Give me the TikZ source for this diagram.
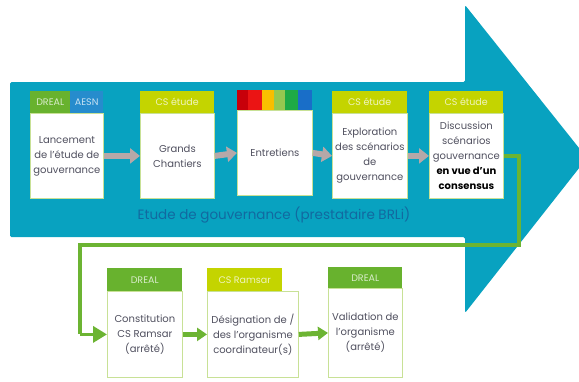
\documentclass[tikz,border=0pt]{standalone}
\usepackage{fontspec}
\setmainfont{Poppins}
\usetikzlibrary{arrows.meta}
\definecolor{teal}{RGB}{8,162,192}
\definecolor{dgreen}{RGB}{104,178,46}
\definecolor{aesnblue}{RGB}{38,140,205}
\definecolor{lime}{RGB}{196,212,0}
\definecolor{cgreen}{RGB}{108,180,50}
\definecolor{garrow}{RGB}{182,168,168}
\definecolor{labelblue}{RGB}{18,105,160}
\definecolor{txtgray}{RGB}{80,80,95}
\definecolor{bgreen}{RGB}{200,225,150}
\definecolor{cdarkred}{RGB}{200,0,10}
\definecolor{cred}{RGB}{235,20,20}
\definecolor{corange}{RGB}{250,190,0}
\definecolor{clgreen}{RGB}{150,200,80}
\definecolor{cgreenb}{RGB}{30,170,70}
\definecolor{cblue}{RGB}{25,110,200}
\tikzset{
  body/.style={draw=bgreen, line width=0.8pt, fill=white, anchor=north west, inner sep=0pt,
    align=center, text=txtgray, font=\fontsize{10}{15}\selectfont},
  hdr/.style={anchor=north west, inner sep=0pt, text=white, text opacity=0.75,
    font=\fontsize{9.5}{11}\selectfont},
  grayarr/.style={draw=garrow, line width=6pt, -{Triangle[width=15pt,length=10pt]}},
  grnarr/.style={draw=cgreen, line width=5pt, -{Triangle[width=13pt,length=10pt]}},
  connector/.style={draw=cgreen, line width=3.5pt},
}
\begin{document}
\begin{tikzpicture}[x=1pt,y=-1pt]
\clip (0,0) rectangle (579,381);
\fill[white] (0,0) rectangle (579,381);
% big arrow
\fill[teal, rounded corners=1.5pt] (10,82) -- (465,82) -- (465,5) -- (587,158) -- (465,313) -- (465,237) -- (10,237) -- cycle;
% top row bodies
\node[body, minimum width=73pt, minimum height=85pt] (b1) at (30,113) {Lancement\\de l'étude de\\gouvernance};
\node[body, minimum width=74pt, minimum height=85pt] (b2) at (140,113) {Grands\\Chantiers};
\node[body, minimum width=75pt, minimum height=85pt] (b3) at (237,110) {Entretiens};
\node[body, minimum width=75pt, minimum height=85pt] (b4) at (332,113) {Exploration\\des scénarios\\de\\gouvernance};
\node[body, minimum width=74pt, minimum height=85pt] (b5) at (429,113) {Discussion\\scénarios\\gouvernance\\{\bfseries\color{black}en vue d'un}\\{\bfseries\color{black}consensus}};
% top headers
\node[hdr, fill=dgreen, minimum width=40pt, minimum height=22pt] (h1a) at (30,91) {DREAL};
\node[hdr, fill=aesnblue, minimum width=33pt, minimum height=22pt] (h1b) at (70,91) {AESN};
\node[hdr, fill=lime, minimum width=74pt, minimum height=22pt] (h2) at (140,91) {CS étude};
\node[hdr, fill=lime, minimum width=75pt, minimum height=22pt] (h4) at (332,91) {CS étude};
\node[hdr, fill=lime, minimum width=74pt, minimum height=22pt] (h5) at (429,91) {CS étude};
% colour bar
\fill[cdarkred] (237,90) rectangle (248,110);
\fill[cred] (248,90) rectangle (262,110);
\fill[corange] (262,90) rectangle (274,110);
\fill[clgreen] (274,90) rectangle (285,110);
\fill[cgreenb] (285,90) rectangle (298,110);
\fill[cblue] (298,90) rectangle (312,110);
% gray arrows
\draw[grayarr] (b1.east) -- (b2.west);
\draw[grayarr] (b2.east) -- (b3.west);
\draw[grayarr] (b3.east) -- (b4.west);
\draw[grayarr] (b4.east) -- (b5.west);
% label
\node[text=labelblue, font=\fontsize{13.5}{15}\selectfont, inner sep=0pt] (lab) at (274,215) {Etude de gouvernance (prestataire BRLi)};
% bottom row
\node[body, minimum width=75pt, minimum height=86pt] (b6) at (107,291) {Constitution\\CS Ramsar\\(arrêté)};
\node[body, minimum width=91pt, minimum height=86pt] (b7) at (207,291) {Désignation de /\\des l'organisme\\coordinateur(s)};
\node[body, minimum width=74pt, minimum height=89pt] (b8) at (328,288) {Validation de\\l'organisme\\(arrêté)};
\node[hdr, fill=dgreen, minimum width=75pt, minimum height=23pt] (h6) at (107,268) {DREAL};
\node[hdr, fill=lime, minimum width=75pt, minimum height=23pt] (h7) at (207,268) {CS Ramsar};
\node[hdr, fill=dgreen, minimum width=74pt, minimum height=21pt] (h8) at (328,267) {DREAL};
% connector
\coordinate (c1) at (519,245);
\coordinate (c2) at (80,245);
\draw[connector] (b5.east) -| (c1) -- (c2) -- (c2 |- b6.west);
\draw[connector, -{Triangle[width=16pt,length=14pt]}] (c2 |- b6.west) -- (b6.west);
\draw[grnarr] (b6.east) -- (b7.west);
\draw[grnarr] (b7.east) -- (b8.west);
\end{tikzpicture}
\end{document}
